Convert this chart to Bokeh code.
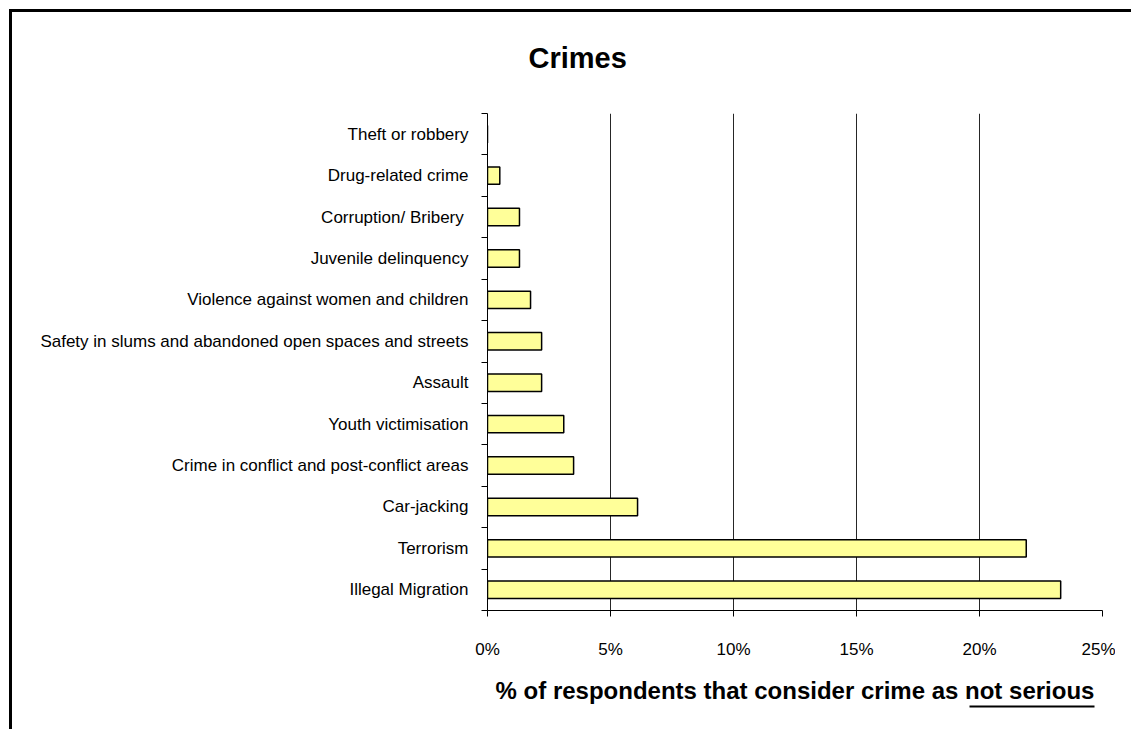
from bokeh.plotting import figure
from bokeh.models import (FixedTicker, Range1d, ColumnDataSource, LinearAxis,
                          InlineStyleSheet)
from bokeh.embed import file_html
from bokeh.resources import INLINE

# ---- data (bottom to top) ----
crimes = [
    "Illegal Migration",
    "Terrorism",
    "Car-jacking",
    "Crime in conflict and post-conflict areas",
    "Youth victimisation",
    "Assault",
    "Safety in slums and abandoned open spaces and streets",
    "Violence against women and children",
    "Juvenile delinquency",
    "Corruption/ Bribery ",
    "Drug-related crime",
    "Theft or robbery",
]
pct_not_serious = [23.3, 21.9, 6.1, 3.5, 3.1, 2.2, 2.2, 1.75, 1.3, 1.3, 0.5, 0.0]
x_ticks = [0, 5, 10, 15, 20, 25]
x_tick_labels = ["0%", "5%", "10%", "15%", "20%", "25%"]
title_text = "Crimes"
xlabel_text = "% of respondents that consider crime as not serious"
underline_span = (19.59, 24.67)   # extent of "not serious" under the x title

centers = [i + 0.5 for i in range(len(crimes))]
bounds = list(range(len(crimes) + 1))

src = ColumnDataSource(dict(y=centers, right=pct_not_serious, name=crimes))

FONT = "Liberation Sans"

frame_css = InlineStyleSheet(css="""
:host { position: relative; }
:host::after {
  content: ""; position: absolute; left: 9px; top: 9px; right: -40px; bottom: -40px;
  border-left: 3px solid black; border-top: 3px solid black; pointer-events: none;
}
""")

p = figure(width=1115, height=713, output_backend="svg", toolbar_location=None,
           x_range=Range1d(0, 25), y_range=Range1d(0, len(crimes)),
           min_border_left=487, min_border_right=13, min_border_top=112,
           min_border_bottom=103, stylesheets=[frame_css])
p.outline_line_color = None
p.background_fill_color = "white"
p.border_fill_color = "white"

p.hbar(y="y", left=0, right="right", height=0.42, source=src,
       fill_color="#FFFF99", line_color="black", line_width=1.5)

# title
p.title.text = title_text
p.title.text_font = FONT
p.title.text_font_style = "bold"
p.title.text_font_size = "29px"
p.title.text_color = "black"
p.title.align = "left"
p.title.offset = 41
p.title.standoff = 79

# x axis
xa = p.xaxis[0]
xa.ticker = FixedTicker(ticks=x_ticks, minor_ticks=[])
xa.major_label_overrides = {t: l for t, l in zip(x_ticks, x_tick_labels)}
xa.major_tick_out = 6
xa.major_tick_in = 0
xa.major_tick_line_color = "black"
xa.axis_line_color = "black"
xa.major_label_standoff = 23
xa.major_label_text_font = FONT
xa.major_label_text_font_size = "17px"
xa.major_label_text_color = "black"
xa.axis_label = xlabel_text
xa.axis_label_text_font = FONT
xa.axis_label_text_font_style = "bold"
xa.axis_label_text_font_size = "24px"
xa.axis_label_text_color = "black"
xa.axis_label_standoff = 15

# underline under "not serious" drawn as a bounded extra axis line
ul = LinearAxis(ticker=FixedTicker(ticks=[], minor_ticks=[]), bounds=underline_span,
                axis_line_width=2, axis_line_color="black",
                major_label_text_font_size="0px", major_tick_out=0, major_tick_in=0,
                minor_tick_out=0, minor_tick_in=0, major_label_standoff=0)
p.add_layout(ul, "below")

# y axis
ya = p.yaxis[0]
ya.ticker = FixedTicker(ticks=centers, minor_ticks=bounds)
ya.major_label_overrides = {c: n for c, n in zip(centers, crimes)}
ya.major_tick_line_color = None
ya.major_tick_out = 0
ya.major_tick_in = 0
ya.minor_tick_out = 6
ya.minor_tick_in = 0
ya.minor_tick_line_color = "black"
ya.axis_line_color = "black"
ya.major_label_standoff = 13
ya.major_label_text_font = FONT
ya.major_label_text_font_size = "17px"
ya.major_label_text_color = "black"

# grid
p.ygrid.grid_line_color = None
p.xgrid.ticker = FixedTicker(ticks=x_ticks[1:-1])
p.xgrid.grid_line_color = "black"
p.xgrid.grid_line_width = 1
p.xgrid.grid_line_alpha = 0.85

open("out.html", "w").write(file_html(p, INLINE))
